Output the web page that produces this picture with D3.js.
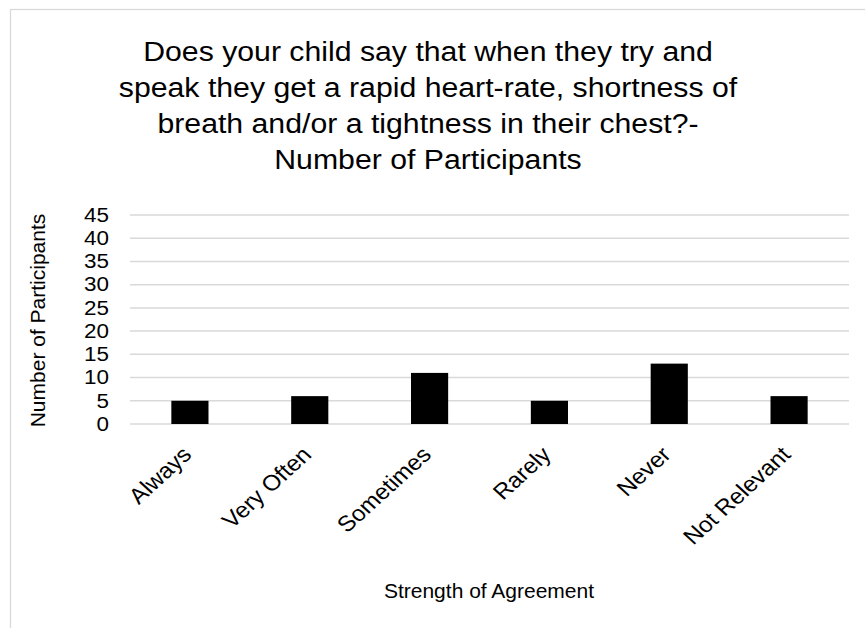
<!DOCTYPE html>
<html>
<head>
<meta charset="utf-8">
<script src="https://cdn.jsdelivr.net/npm/d3@7"></script>
<style>
  html, body { margin: 0; padding: 0; background: #fff; }
  svg { display: block; font-family: "Liberation Sans", Arial, sans-serif; }
</style>
</head>
<body>
<svg id="chart" width="865" height="628"></svg>
<script>
// Survey responses
const categories = ["Always", "Very Often", "Sometimes", "Rarely", "Never", "Not Relevant"];
const participants = [5, 6, 11, 5, 13, 6];
const yTicks = [0, 5, 10, 15, 20, 25, 30, 35, 40, 45];
const titleLines = [
  "Does your child say that when they try and",
  "speak they get a rapid heart-rate, shortness of",
  "breath and/or a tightness in their chest?-",
  "Number of Participants"
];

const svg = d3.select("#chart");
const W = 865, H = 628;
const plot = { left: 130, right: 849, top: 215, bottom: 424 };
const FONT = "Liberation Sans, Arial, sans-serif";
const stretch = 1.12; // slightly wide lettering

// Chart frame
svg.append("rect")
  .attr("x", 10.5).attr("y", 9.5)
  .attr("width", W).attr("height", H)
  .attr("fill", "#fff").attr("stroke", "#d9d9d9").attr("stroke-width", 1.3);

// Title
svg.append("g")
  .attr("transform", `translate(428,0) scale(${stretch},1)`)
  .append("text")
  .attr("text-anchor", "middle")
  .attr("font-size", 27)
  .attr("fill", "#000")
  .selectAll("tspan").data(titleLines).join("tspan")
  .attr("x", 0)
  .attr("y", (d, i) => 61 + i * 36)
  .text(d => d);

const x = d3.scaleBand().domain(categories).range([plot.left, plot.right]).paddingInner(0.69).paddingOuter(0.345);
const y = d3.scaleLinear().domain([0, 45]).range([plot.bottom, plot.top]);

// Gridlines
svg.append("g")
  .selectAll("line").data(yTicks).join("line")
  .attr("x1", plot.left).attr("x2", plot.right)
  .attr("y1", d => y(d)).attr("y2", d => y(d))
  .attr("stroke", "#d9d9d9").attr("stroke-width", 1.5);

// Y axis labels
const yAxis = svg.append("g")
  .attr("transform", `translate(${plot.left},0)`)
  .call(d3.axisLeft(y).tickValues(yTicks).tickSize(0).tickPadding(0));
yAxis.select(".domain").remove();
yAxis.selectAll("text")
  .attr("font-size", 19.5).attr("fill", "#000").attr("font-family", FONT)
  .attr("x", 0)
  .attr("transform", `translate(-21,0) scale(${stretch + 0.03},1)`);

// Bars
svg.append("g")
  .selectAll("rect").data(categories).join("rect")
  .attr("x", d => x(d))
  .attr("width", x.bandwidth())
  .attr("y", (d, i) => y(participants[i]))
  .attr("height", (d, i) => y(0) - y(participants[i]))
  .attr("fill", "#000");

// X axis labels, rotated
const xAxis = svg.append("g")
  .attr("transform", `translate(0,${plot.bottom})`)
  .call(d3.axisBottom(x).tickSize(0).tickPadding(0));
xAxis.select(".domain").remove();
xAxis.selectAll("text")
  .attr("font-size", 22).attr("fill", "#000").attr("font-family", FONT)
  .attr("text-anchor", "end")
  .attr("y", 0)
  .attr("dy", null)
  .attr("transform", `translate(3,32) scale(1.1,1) rotate(-45)`);

// Axis titles
svg.append("text")
  .attr("transform", `translate(45,${(plot.top + plot.bottom) / 2 + 1}) rotate(-90)`)
  .attr("text-anchor", "middle")
  .attr("font-size", 21)
  .text("Number of Participants");

svg.append("text")
  .attr("x", 489).attr("y", 598)
  .attr("text-anchor", "middle")
  .attr("font-size", 21)
  .text("Strength of Agreement");
</script>
</body>
</html>
